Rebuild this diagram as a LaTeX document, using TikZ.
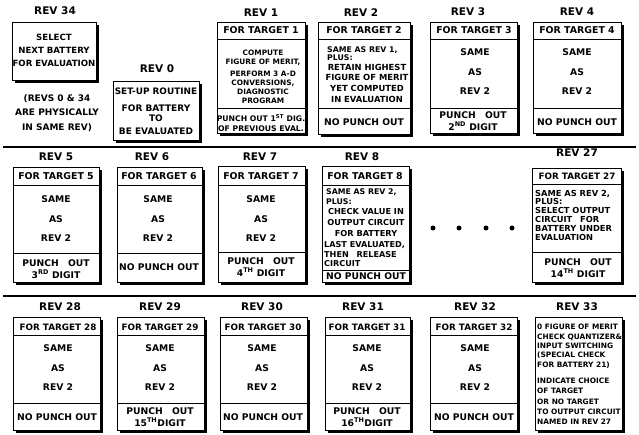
\documentclass[tikz,border=0pt]{standalone}
\usepackage{fontspec}
\setmainfont{DejaVu Sans}
\usetikzlibrary{shadows}
\newcommand\mfs[2]{\fontsize{#1}{#2}\selectfont\bfseries}
\tikzset{
  revbox/.style={draw, line width=0.9pt, fill=white, inner sep=0pt, outer sep=0pt,
    drop shadow={fill=black, opacity=1, shadow xshift=3pt, shadow yshift=-3pt}},
  lab/.style={font=\mfs{10.5}{12}, inner sep=0pt},
  head/.style={font=\mfs{9.4}{10}, inner sep=0pt},
  headw/.style={font=\mfs{8.8}{10}, inner sep=0pt},
  txt/.style={inner sep=0pt, align=center},
  same/.style={txt, font=\mfs{9.2}{19.5}},
  punch/.style={txt, font=\mfs{9.2}{12}},
  nopunch/.style={txt, font=\mfs{9.2}{10}},
  divl/.style={line width=0.8pt},
  sepl/.style={line width=1.1pt},
  dot/.style={circle, fill=black, inner sep=0pt, minimum size=5pt},
}
\newcommand\rbox[5]{\node[revbox, minimum width={(#4-#2)*1pt}, minimum height={(#5-#3)*1pt}] (#1) at ({(#2+#4)/2},{(#3+#5)/2}) {};}
\newcommand\dv[2]{\draw[divl] (#1.west |- 0,#2) -- (#1.east |- 0,#2);}
\newcommand\po{PUNCH\hspace{6pt} OUT}
\begin{document}
\begin{tikzpicture}[x=1pt, y=-1pt]
\useasboundingbox (0,0) rectangle (639,435);
\fill[white] (0,0) rectangle (639,435);

% ---------------- row 1 ----------------
\node[lab] (l34) at (55,11) {REV 34};
\rbox{r34}{12}{22}{96}{80}
\node[txt, font=\mfs{8.6}{13}] (t34) at (54,50) {SELECT\\NEXT BATTERY\\FOR EVALUATION};
\node[txt, font=\mfs{9}{14.5}] (n34) at (57,113) {(REVS 0 \& 34\\ARE PHYSICALLY\\IN SAME REV)};

\node[lab] (l0) at (157,69) {REV 0};
\rbox{r0}{113}{81}{199}{140}
\node[txt, font=\mfs{8.9}{10}] (t0a) at (156,91) {SET-UP ROUTINE};
\node[txt, font=\mfs{9}{9.5}] (t0b) at (156,120) {FOR BATTERY\\TO\\[4pt]BE EVALUATED};

\node[lab] (l1) at (261,13) {REV 1};
\rbox{r1}{217}{22}{305}{133}
\dv{r1}{39}\dv{r1}{108}
\node[head] (h1) at (261,30) {FOR TARGET 1};
\node[txt, font=\mfs{7.4}{9}] (t1) at (263,77) {COMPUTE\\FIGURE OF MERIT,\\[3pt]PERFORM 3 A-D\\CONVERSIONS,\\DIAGNOSTIC\\PROGRAM};
\node[txt, font=\mfs{7.7}{10}] (p1) at (261,123) {PUNCH OUT 1\textsuperscript{ST} DIG.\\OF PREVIOUS EVAL.};

\node[lab] (l2) at (361,13) {REV 2};
\rbox{r2}{318}{22}{410}{134}
\dv{r2}{39}\dv{r2}{108}
\node[head] (h2) at (364,30) {FOR TARGET 2};
\node[txt, align=left, anchor=west, font=\mfs{7.8}{7.5}] (t2a) at (327,53.5) {SAME AS REV 1,\\PLUS:};
\node[txt, font=\mfs{8.4}{10.7}] (t2b) at (367,83) {RETAIN HIGHEST\\FIGURE OF MERIT\\YET COMPUTED\\IN EVALUATION};
\node[nopunch] (p2) at (364,122) {NO PUNCH OUT};

\node[lab] (l3) at (468,12) {REV 3};
\rbox{r3}{430}{22}{517}{133}
\dv{r3}{39}\dv{r3}{108}
\node[head] (h3) at (474,30) {FOR TARGET 3};
\node[same] (t3) at (475,72) {SAME\\AS\\REV 2};
\node[punch] (p3) at (473,121) {\po\\2\textsuperscript{ND} DIGIT};

\node[lab] (l4) at (577,12) {REV 4};
\rbox{r4}{533}{22}{621}{133}
\dv{r4}{39}\dv{r4}{108}
\node[head] (h4) at (577,30) {FOR TARGET 4};
\node[same] (t4) at (577,72) {SAME\\AS\\REV 2};
\node[nopunch] (p4) at (577,122) {NO PUNCH OUT};

\coordinate (s1a) at (3,147); \coordinate (s1b) at (636,147);
\draw[sepl] (s1a) -- (s1b);

% ---------------- row 2 ----------------
\node[lab] (l5) at (56,157) {REV 5};
\rbox{r5}{13}{167}{99}{282}
\dv{r5}{185}\dv{r5}{253}
\node[head] (h5) at (56,176) {FOR TARGET 5};
\node[same] (t5) at (56,219) {SAME\\AS\\REV 2};
\node[punch] (p5) at (56,269) {\po\\3\textsuperscript{RD} DIGIT};

\node[lab] (l6) at (152,157) {REV 6};
\rbox{r6}{117}{167}{202}{282}
\dv{r6}{185}\dv{r6}{253}
\node[head] (h6) at (159,176) {FOR TARGET 6};
\node[same] (t6) at (158,219) {SAME\\AS\\REV 2};
\node[nopunch] (p6) at (159,267) {NO PUNCH OUT};

\node[lab] (l7) at (260,157) {REV 7};
\rbox{r7}{218}{166}{305}{282}
\dv{r7}{185}\dv{r7}{252}
\node[head] (h7) at (261,176) {FOR TARGET 7};
\node[same] (t7) at (261,219) {SAME\\AS\\REV 2};
\node[punch] (p7) at (261,267) {\po\\4\textsuperscript{TH} DIGIT};

\node[lab] (l8) at (362,157) {REV 8};
\rbox{r8}{322}{166}{409}{282}
\dv{r8}{185}\dv{r8}{270}
\node[head] (h8) at (365,176) {FOR TARGET 8};
\node[txt, align=left, anchor=west, font=\mfs{7.8}{10}] (t8a) at (326,197) {SAME AS REV 2,\\PLUS:};
\node[txt, font=\mfs{8.2}{11}] (t8b) at (366,223) {CHECK VALUE IN\\OUTPUT CIRCUIT\\FOR BATTERY};
\node[txt, align=left, anchor=west, font=\mfs{8.1}{9.5}] (t8c) at (324,254.5) {LAST EVALUATED,\\THEN\hspace{5pt} RELEASE\\CIRCUIT};
\node[nopunch] (p8) at (366,276.5) {NO PUNCH OUT};

\node[dot] (d1) at (433,228) {};
\node[dot] (d2) at (459,228) {};
\node[dot] (d3) at (486,228) {};
\node[dot] (d4) at (512,228) {};

\node[lab] (l27) at (577,153) {REV 27};
\rbox{r27}{532}{168}{621}{282}
\dv{r27}{184}\dv{r27}{252}
\node[headw] (h27) at (577,176) {FOR TARGET 27};
\node[txt, align=left, anchor=west, font=\mfs{8.3}{8.8}] (t27) at (535,215) {SAME AS REV 2,\\PLUS:\\SELECT OUTPUT\\CIRCUIT\hspace{5pt} FOR\\BATTERY UNDER\\EVALUATION};
\node[punch] (p27) at (578,268) {\po\\14\textsuperscript{TH} DIGIT};

\coordinate (s2a) at (3,296); \coordinate (s2b) at (636,296);
\draw[sepl] (s2a) -- (s2b);

% ---------------- row 3 ----------------
\node[lab] (l28) at (60,307) {REV 28};
\rbox{r28}{13}{317}{100}{430}
\dv{r28}{335}\dv{r28}{403}
\node[headw] (h28) at (58,327) {FOR TARGET 28};
\node[same] (t28) at (58,368) {SAME\\AS\\REV 2};
\node[nopunch] (p28) at (57,417) {NO PUNCH OUT};

\node[lab] (l29) at (160,307) {REV 29};
\rbox{r29}{117}{317}{204}{430}
\dv{r29}{335}\dv{r29}{403}
\node[headw] (h29) at (160,327) {FOR TARGET 29};
\node[same] (t29) at (160,368) {SAME\\AS\\REV 2};
\node[punch] (p29) at (160,417) {\po\\15\textsuperscript{TH}DIGIT};

\node[lab] (l30) at (262,307) {REV 30};
\rbox{r30}{220}{317}{307}{430}
\dv{r30}{335}\dv{r30}{403}
\node[headw] (h30) at (263,327) {FOR TARGET 30};
\node[same] (t30) at (262,368) {SAME\\AS\\REV 2};
\node[nopunch] (p30) at (263,417) {NO PUNCH OUT};

\node[lab] (l31) at (363,307) {REV 31};
\rbox{r31}{325}{317}{410}{430}
\dv{r31}{335}\dv{r31}{403}
\node[headw] (h31) at (367,327) {FOR TARGET 31};
\node[same] (t31) at (367,368) {SAME\\AS\\REV 2};
\node[punch] (p31) at (367,417) {\po\\16\textsuperscript{TH}DIGIT};

\node[lab] (l32) at (475,307) {REV 32};
\rbox{r32}{430}{317}{517}{430}
\dv{r32}{335}\dv{r32}{403}
\node[headw] (h32) at (474,327) {FOR TARGET 32};
\node[same] (t32) at (475,368) {SAME\\AS\\REV 2};
\node[nopunch] (p32) at (474,417) {NO PUNCH OUT};

\node[lab] (l33) at (577,307) {REV 33};
\rbox{r33}{535}{317}{622}{430}
\node[txt, align=left, anchor=west, font=\mfs{7.4}{9.3}] (t33a) at (537,346.3) {0 FIGURE OF MERIT\\CHECK QUANTIZER\&\\INPUT SWITCHING\\(SPECIAL CHECK\\FOR BATTERY 21)};
\node[txt, align=left, anchor=west, font=\mfs{7.4}{10.2}] (t33b) at (537,401.3) {INDICATE CHOICE\\OF TARGET\\OR NO TARGET\\TO OUTPUT CIRCUIT\\NAMED IN REV 27};
\end{tikzpicture}
\end{document}
